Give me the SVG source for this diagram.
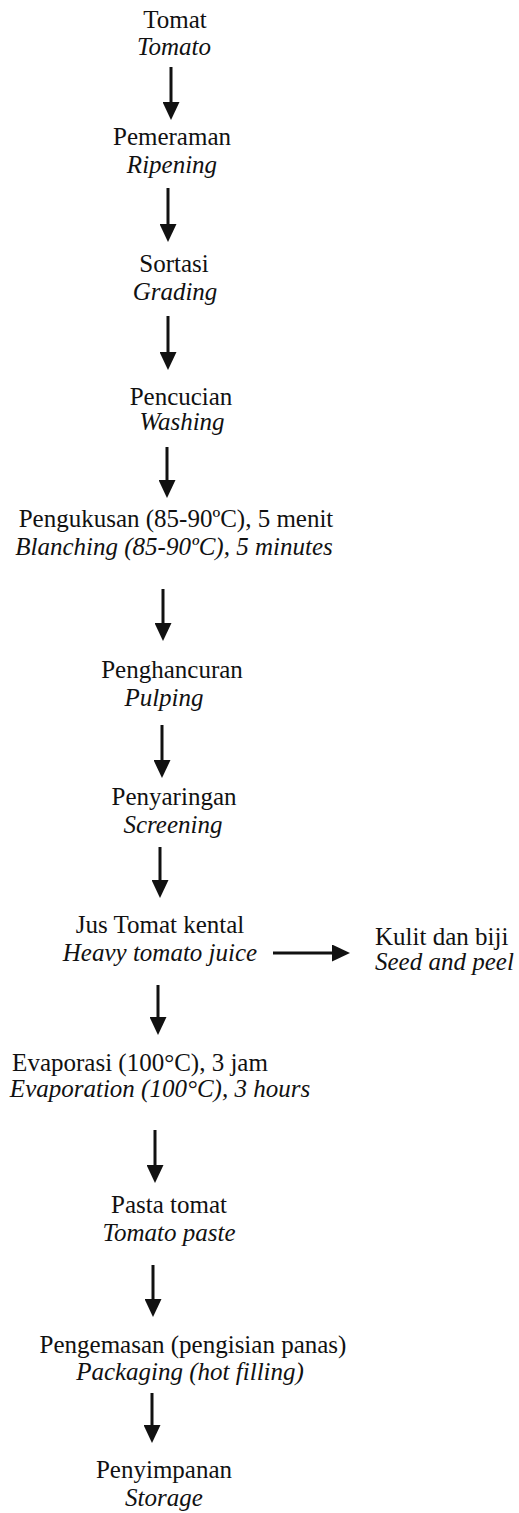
<svg xmlns="http://www.w3.org/2000/svg" width="519" height="1513" viewBox="0 0 519 1513">
<style>
text{font-family:"Liberation Serif","Times New Roman",serif;font-size:25px;fill:#111;text-anchor:middle}
.i{font-style:italic}
.l{text-anchor:start}
.c line{stroke:#111;stroke-width:3;fill:none}
</style>
<defs>
<marker id="ah" markerUnits="userSpaceOnUse" markerWidth="18" markerHeight="17" viewBox="0 0 18 17" refX="8" refY="8.5" orient="auto">
<path d="M0,0 L18,8.5 L0,17 z" fill="#111"/>
</marker>
</defs>
<rect width="519" height="1513" fill="#fff"/>
<g id="n1"><text x="175" y="28">Tomat</text><text class="i" x="174" y="55">Tomato</text></g>
<g id="n2"><text x="172" y="145">Pemeraman</text><text class="i" x="172" y="173">Ripening</text></g>
<g id="n3"><text x="174" y="272">Sortasi</text><text class="i" x="175" y="300">Grading</text></g>
<g id="n4"><text x="181" y="405">Pencucian</text><text class="i" x="182" y="430">Washing</text></g>
<g id="n5"><text x="176" y="527">Pengukusan (85-90ºC), 5 menit</text><text class="i" x="174" y="555">Blanching (85-90ºC), 5 minutes</text></g>
<g id="n6"><text x="172" y="678">Penghancuran</text><text class="i" x="164" y="706">Pulping</text></g>
<g id="n7"><text x="174" y="805">Penyaringan</text><text class="i" x="173" y="833">Screening</text></g>
<g id="n8"><text x="160" y="933">Jus Tomat kental</text><text class="i" x="160" y="961">Heavy tomato juice</text></g>
<g id="n9"><text class="l" x="375" y="945">Kulit dan biji</text><text class="i l" x="375" y="970">Seed and peel</text></g>
<g id="n10"><text x="140" y="1071">Evaporasi (100°C), 3 jam</text><text class="i" x="160" y="1097">Evaporation (100°C), 3 hours</text></g>
<g id="n11"><text x="169" y="1213">Pasta tomat</text><text class="i" x="169" y="1241">Tomato paste</text></g>
<g id="n12"><text x="193" y="1353">Pengemasan (pengisian panas)</text><text class="i" x="190" y="1380">Packaging (hot filling)</text></g>
<g id="n13"><text x="164" y="1478">Penyimpanan</text><text class="i" x="164" y="1506">Storage</text></g>
<g id="connectors" class="c">
<line x1="171" y1="67" x2="171" y2="110" marker-end="url(#ah)"/>
<line x1="168" y1="188" x2="168" y2="232" marker-end="url(#ah)"/>
<line x1="168" y1="316" x2="168" y2="360" marker-end="url(#ah)"/>
<line x1="167" y1="447" x2="167" y2="488" marker-end="url(#ah)"/>
<line x1="163" y1="589" x2="163" y2="631" marker-end="url(#ah)"/>
<line x1="162" y1="725" x2="162" y2="768" marker-end="url(#ah)"/>
<line x1="160" y1="847" x2="160" y2="888" marker-end="url(#ah)"/>
<line x1="273" y1="953" x2="340" y2="953" marker-end="url(#ah)"/>
<line x1="158" y1="985" x2="158" y2="1025" marker-end="url(#ah)"/>
<line x1="155" y1="1130" x2="155" y2="1173" marker-end="url(#ah)"/>
<line x1="153" y1="1265" x2="153" y2="1307" marker-end="url(#ah)"/>
<line x1="152" y1="1393" x2="152" y2="1433" marker-end="url(#ah)"/>
</g>
</svg>
